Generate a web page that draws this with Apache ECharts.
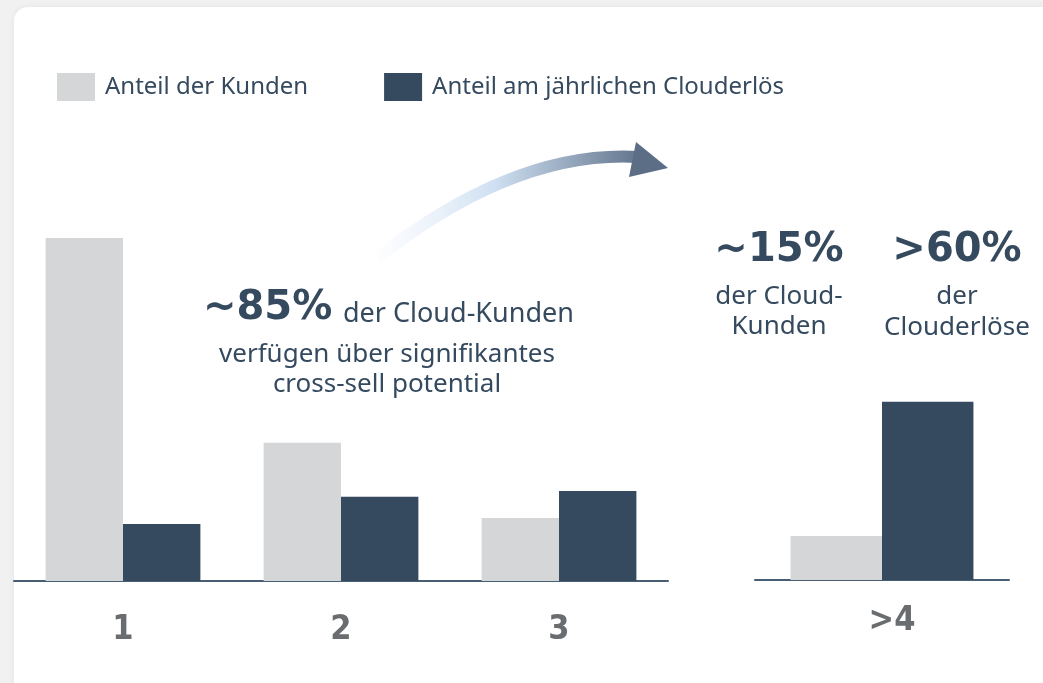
<!DOCTYPE html>
<html>
<head>
<meta charset="utf-8">
<title>Cloud-Kunden Cross-Sell</title>
<script src="https://cdn.jsdelivr.net/npm/echarts@6/dist/echarts.min.js"></script>
<style>
    html, body { margin: 0; padding: 0; background: #f1f1f1; overflow: hidden; }
    #card {
        position: absolute; left: 14px; top: 7px; width: 1100px; height: 760px;
        background: #ffffff; border-radius: 14px;
        box-shadow: 0 0 6px rgba(0, 0, 0, 0.06);
    }
    #chart { position: absolute; left: 0; top: 0; width: 1043px; height: 683px; }
</style>
</head>
<body>
<div id="card"></div>
<div id="chart"></div>
<script>
// Chart data
const seriesNames = ['Anteil der Kunden', 'Anteil am jährlichen Clouderlös'];
const mainCategories = ['1', '2', '3'];
const sideCategories = ['>4'];
const customerShareMain = [58.3, 23.5, 10.7];
const revenueShareMain = [9.7, 14.3, 15.3];
const customerShareSide = [7.5];
const revenueShareSide = [30.3];

const GRAY = '#d5d6d8';
const DARK = '#354a5f';
const TEXT = '#354a5f';
const FONT = '"Noto Sans", "Open Sans", sans-serif';
const BOLD_FONT = '"DejaVu Sans", sans-serif';

document.addEventListener('DOMContentLoaded', function() {
    const myChart = echarts.init(document.getElementById('chart'), null, { renderer: 'canvas' });

    const axisLabelStyle = {
        color: '#6a6d70',
        fontSize: 34,
        fontWeight: 'bold',
        fontFamily: '"Liberation Sans Narrow", "DejaVu Sans Condensed", sans-serif'
    };

    const option = {
        backgroundColor: 'transparent',
        animation: false,
        legend: {
            data: seriesNames,
            left: 57,
            top: 73,
            padding: 0,
            icon: 'rect',
            itemWidth: 38,
            itemHeight: 28,
            itemGap: 76,
            selectedMode: false,
            textStyle: {
                color: TEXT,
                fontSize: 24,
                fontFamily: FONT,
                padding: [2, 0, 0, 5]
            }
        },
        grid: [
            { left: 14, width: 654, top: 228, height: 353 },
            { left: 755, width: 254, top: 227, height: 353 }
        ],
        xAxis: [
            {
                type: 'category', gridIndex: 0, data: mainCategories,
                axisLine: { lineStyle: { color: '#475e75', width: 2 } },
                axisTick: { show: false },
                axisLabel: Object.assign({ margin: 32 }, axisLabelStyle)
            },
            {
                type: 'category', gridIndex: 1, data: sideCategories,
                axisLine: { lineStyle: { color: '#475e75', width: 2 } },
                axisTick: { show: false },
                axisLabel: Object.assign({ margin: 24, padding: [0, 0, 0, 20] }, axisLabelStyle)
            }
        ],
        yAxis: [
            { type: 'value', gridIndex: 0, min: 0, max: 60, show: false },
            { type: 'value', gridIndex: 1, min: 0, max: 60, show: false }
        ],
        series: [
            {
                name: seriesNames[0], type: 'bar', xAxisIndex: 0, yAxisIndex: 0,
                data: customerShareMain, itemStyle: { color: GRAY },
                barGap: '0%', barCategoryGap: '29%'
            },
            {
                name: seriesNames[1], type: 'bar', xAxisIndex: 0, yAxisIndex: 0,
                data: revenueShareMain, itemStyle: { color: DARK },
                barGap: '0%', barCategoryGap: '29%'
            },
            {
                name: seriesNames[0], type: 'bar', xAxisIndex: 1, yAxisIndex: 1,
                data: customerShareSide, itemStyle: { color: GRAY },
                barGap: '0%', barCategoryGap: '28%'
            },
            {
                name: seriesNames[1], type: 'bar', xAxisIndex: 1, yAxisIndex: 1,
                data: revenueShareSide, itemStyle: { color: DARK },
                barGap: '0%', barCategoryGap: '28%'
            }
        ],
        graphic: [
            // curved arrow
            {
                type: 'bezierCurve',
                shape: { x1: 377, y1: 258, cpx1: 515, cpy1: 150, x2: 638, y2: 157 },
                style: {
                    fill: 'none',
                    lineWidth: 12,
                    stroke: new echarts.graphic.LinearGradient(0, 0, 1, 0, [
                        { offset: 0, color: 'rgba(225, 236, 248, 0)' },
                        { offset: 0.45, color: '#cfe0f2' },
                        { offset: 1, color: '#5e7189' }
                    ])
                }
            },
            {
                type: 'polygon',
                shape: { points: [[636, 142], [668, 168], [629, 177]] },
                style: { fill: '#5b6e85' }
            },
            // middle annotation
            {
                type: 'text', x: 203, y: 309,
                style: { text: '~85%', fill: TEXT, font: 'bold 40px ' + BOLD_FONT, verticalAlign: 'middle', align: 'left' }
            },
            {
                type: 'text', x: 343, y: 314,
                style: { text: 'der Cloud-Kunden', fill: TEXT, font: '27px ' + FONT, verticalAlign: 'middle', align: 'left' }
            },
            {
                type: 'text', x: 387, y: 355,
                style: { text: 'verfügen über signifikantes', fill: TEXT, font: '26px ' + FONT, verticalAlign: 'middle', align: 'center' }
            },
            {
                type: 'text', x: 387, y: 385,
                style: { text: 'cross-sell potential', fill: TEXT, font: '26px ' + FONT, verticalAlign: 'middle', align: 'center' }
            },
            // right annotations
            {
                type: 'text', x: 779, y: 251,
                style: { text: '~15%', fill: TEXT, font: 'bold 40px ' + BOLD_FONT, verticalAlign: 'middle', align: 'center' }
            },
            {
                type: 'text', x: 779, y: 297,
                style: { text: 'der Cloud-', fill: TEXT, font: '26px ' + FONT, verticalAlign: 'middle', align: 'center' }
            },
            {
                type: 'text', x: 779, y: 327,
                style: { text: 'Kunden', fill: TEXT, font: '26px ' + FONT, verticalAlign: 'middle', align: 'center' }
            },
            {
                type: 'text', x: 957, y: 251,
                style: { text: '>60%', fill: TEXT, font: 'bold 40px ' + BOLD_FONT, verticalAlign: 'middle', align: 'center' }
            },
            {
                type: 'text', x: 957, y: 297,
                style: { text: 'der', fill: TEXT, font: '26px ' + FONT, verticalAlign: 'middle', align: 'center' }
            },
            {
                type: 'text', x: 957, y: 328,
                style: { text: 'Clouderlöse', fill: TEXT, font: '26px ' + FONT, verticalAlign: 'middle', align: 'center' }
            }
        ]
    };

    myChart.setOption(option);
});
</script>
</body>
</html>
